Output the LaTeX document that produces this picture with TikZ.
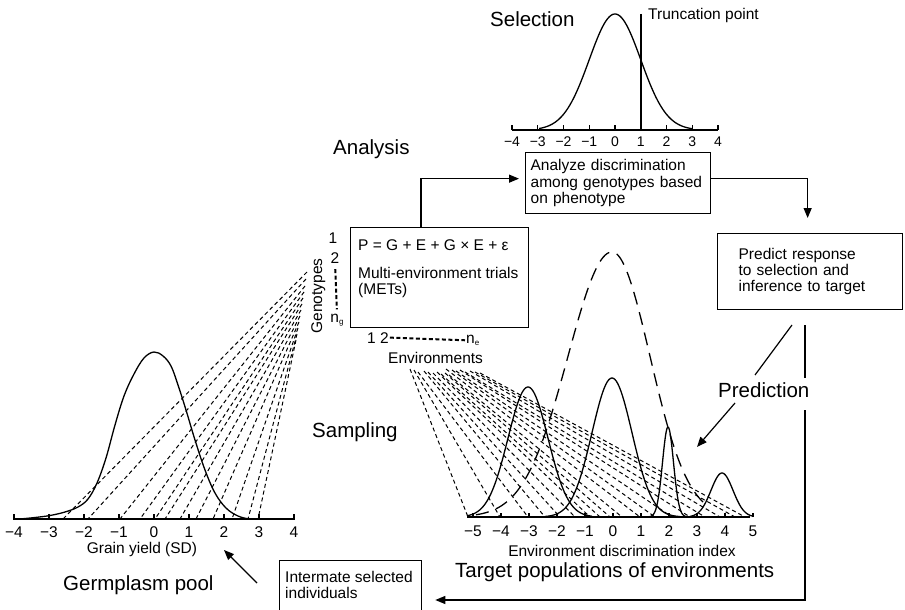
\documentclass[tikz,border=0pt]{standalone}
\usepackage{fontspec}
\setmainfont{Liberation Sans}
\usetikzlibrary{arrows.meta}
\begin{document}
\begin{tikzpicture}[x=1pt,y=-1pt,
  big/.style={font=\fontsize{20.5}{24}\selectfont, inner sep=0, anchor=base west},
  sm/.style={font=\fontsize{15.5}{16.5}\selectfont, inner sep=0},
  tk/.style={font=\fontsize{15.5}{16}\selectfont, inner sep=0, anchor=base},
  tks/.style={font=\fontsize{14}{16}\selectfont, inner sep=0, anchor=base},
  ln/.style={line width=1.2pt},
  boxst/.style={draw, line width=1.3pt, inner sep=0},
  arr/.style={line width=1.2pt, -{Triangle[length=10pt,width=8pt]}},
  fan/.style={line width=1pt, dash pattern=on 4pt off 3pt},
  gdash/.style={line width=2pt, dash pattern=on 4pt off 2.5pt},
  bigdash/.style={line width=1.3pt, dash pattern=on 13pt off 8pt},
  curve/.style={line width=1.3pt, line join=round},
]
\useasboundingbox (0,0) rectangle (905,610);
\fill[white] (0,0) rectangle (905,610);

% ---------- Selection ----------
\node[big] (selection) at (490,27) {Selection};
\draw[ln] (512,130) -- (718,130);
\foreach \v/\t in {-4/−4,-3/−3,-2/−2,-1/−1,0/0,1/1,2/2,3/3,4/4}{
  \draw[ln] ({615+25.75*\v},130) -- ({615+25.75*\v},125);
  \node[tks] (st\v) at ({615+25.75*\v},146.5) {\t};
}
\draw[curve] plot[domain=539:692,samples=90] (\x,{130-116*exp(-((\x-615)/25.75)^2/2)});
\draw[ln] (641,14) -- (641,130);
\node[sm, anchor=base west, font=\fontsize{15.5}{16}\selectfont] (trunc) at (648,20) {Truncation point};

% ---------- Analysis ----------
\node[big] (analysis) at (333,154) {Analysis};
\node[boxst, anchor=north west, minimum width=185, minimum height=61, text width=175, inner xsep=5,
      align=left, font=\fontsize{15.5}{16.5}\selectfont] (abox) at (525,152)
  {Analyze discrimination\\among genotypes based\\on phenotype};

% ---------- METs ----------
\node[boxst, anchor=north west, minimum width=178, minimum height=100] (met) at (350,227) {};
\node[sm, anchor=base west] (eq) at (358,250) {P = G + E + G × E + ε};
\node[sm, anchor=base west] (met1) at (358,278) {Multi-environment trials};
\node[sm, anchor=base west] (met2) at (358,294) {(METs)};
\node[sm, anchor=base] (g1) at (333,243) {1};
\node[sm, anchor=base] (g2) at (335,263) {2};
\node[sm, anchor=base] (ng) at (337,322) {n\raisebox{-0.35ex}{\fontsize{8}{8}\selectfont g}};
\draw[gdash, shorten <=6pt, shorten >=4pt] (g2.south) -- (ng.north);
\node[sm, rotate=90, anchor=base] (geno) at (322,296) {Genotypes};
\node[sm, anchor=base west] (e12) at (367,343) {1 2};
\node[sm, anchor=base west] (ne) at (466,343) {n\raisebox{-0.35ex}{\fontsize{8}{8}\selectfont e}};
\draw[gdash, shorten <=1pt, shorten >=1pt] (e12.east) -- (ne.west);
\node[sm, anchor=base west] (envs) at (388,363) {Environments};

% ---------- Predict ----------
\node[boxst, anchor=north west, minimum width=185, minimum height=76, text width=143, inner xsep=21,
      align=left, font=\fontsize{15.5}{15.7}\selectfont] (pbox) at (717,233)
  {Predict response\\to selection and\\inference to target};

% arrows of the cycle
\coordinate (m1) at (421,227);
\draw[arr, shorten >=6pt] (m1) |- ([yshift=4.5pt]abox.west);
\draw[arr, shorten >=15pt] ([yshift=4.5pt]abox.east) -| ([xshift=-2.5pt]pbox.north);

\node[big] (pred) at (718,397) {Prediction};
\coordinate (d1) at (792,325);
\coordinate (d2) at (755,375);
\coordinate (d3) at (735,403);
\coordinate (d4) at (697,447);
\draw[ln] (d1) -- (d2);
\draw[arr] (d3) -- (d4);

\node[boxst, anchor=north west, minimum width=142, minimum height=60] (ibox) at (279,560) {};
\node[sm, anchor=base west] (it1) at (285,582) {Intermate selected};
\node[sm, anchor=base west] (it2) at (285,598) {individuals};

\coordinate (r1) at (805,325);
\coordinate (r2) at (805,378);
\coordinate (r3) at (805,410);
\coordinate (r4) at (805,600);
\draw[ln] (r1) -- (r2);
\draw[arr, shorten >=13pt] (r3) -- (r4) -- (ibox.east |- r4);

\coordinate (ga) at (257,583);
\coordinate (gb) at (224,550);
\draw[arr] (ga) -- (gb);

% ---------- Germplasm pool ----------
\foreach \sx/\sy/\ex in {307/272/63, 306/279/88, 305/286/120, 304/292/140, 303/298/155, 302/304/165,
  301/310/180, 300/316/196, 299/322/213, 298/328/232, 297/334/248, 296/340/258}{
  \draw[fan] (\sx,\sy) -- (\ex,519);
}
\draw[ln] (13,519) -- (295,519);
\foreach \v/\t in {-4/−4,-3/−3,-2/−2,-1/−1,0/0,1/1,2/2,3/3,4/4}{
  \draw[ln] ({154+35*\v},519) -- ({154+35*\v},514);
  \node[tk] (lt\v) at ({154+35*\v},537) {\t};
}
\draw[curve] plot[smooth, tension=0.6] coordinates {(20,519) (35,517.5) (50,515.5) (65,512) (78,507)
  (88,499) (97,483) (106,458) (115,425) (124,396) (134,374) (144,358) (154,352) (163,356) (171,366)
  (178,385) (186,410) (195,440) (205,470) (215,493) (226,508) (238,516) (250,519) (262,519)};
\node[sm, anchor=base] (gy) at (142,553) {Grain yield (SD)};
\node[big] (germ) at (63,590) {Germplasm pool};
\node[big] (samp) at (312,437) {Sampling};

% ---------- Target populations ----------
\foreach \sx/\sy/\ex in {410/369/468, 414/370/500, 418/372/528, 424/371/545, 428/372/560, 433/373/575,
  437/372/590, 441/374/600, 445/373/610, 449/375/622, 446/369/640, 452/370/655, 456/371/672,
  460/370/690, 465/372/705, 470/371/720, 475/372/735, 480/373/745}{
  \draw[fan] (\sx,\sy) -- (\ex,517);
}
\draw[ln] (467,517) -- (750,517);
\foreach \v/\t in {-5/−5,-4/−4,-3/−3,-2/−2,-1/−1,0/0,1/1,2/2,3/3,4/4,5/5}{
  \draw[ln] ({613+28*\v},517) -- ({613+28*\v},513);
  \node[tk] (et\v) at ({613+28*\v},536) {\t};
}
\draw[curve] plot[domain=467:592,samples=90] (\x,{517-130*exp(-((\x-528)/20)^2/2)});
\draw[curve] plot[domain=545:680,samples=90] (\x,{517-139*exp(-((\x-612)/20)^2/2)});
\draw[curve] plot[domain=648:690,samples=70] (\x,{517-90*exp(-((\x-668)/5.5)^2/2)});
\draw[curve] plot[domain=690:752,samples=70] (\x,{517-44*exp(-((\x-722)/11)^2/2)});
\draw[bigdash] plot[domain=476:612,samples=80] (\x,{517-265*exp(-((\x-612)/44)^2/2)})
  -- plot[domain=612:705,samples=60] (\x,{517-265*exp(-((\x-612)/38)^2/2)});
\node[sm, anchor=base] (edi) at (622,556) {Environment discrimination index};
\node[big] (tpe) at (455,577) {Target populations of environments};
\end{tikzpicture}
\end{document}
